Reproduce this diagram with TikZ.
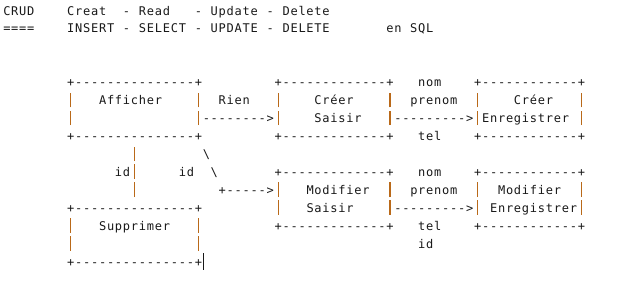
\documentclass[tikz,border=0pt]{standalone}
\usepackage{fontspec}
\setmonofont{DejaVu Sans Mono}
\usepackage{xcolor}
\definecolor{ink}{RGB}{25,25,25}
\definecolor{barcol}{RGB}{185,105,25}

% fixed character pitch of the text grid
\newlength\cw
\setlength\cw{7.98pt}

% typeset one line of the grid: "." stands for a blank cell,
% "|" is drawn as a coloured bar, any other character is centred in its cell
\def\gridline#1{\gridstep#1\relax}
\def\gridstep#1{\ifx#1\relax\else\gridcell{#1}\expandafter\gridstep\fi}
\def\gridcell#1{%
  \ifx#1.\hbox to\cw{}%
  \else\ifx#1|\hbox to\cw{\hss\textcolor{barcol}{\rule[-2.5pt]{1.4pt}{14.6pt}}\hss}%
  \else\hbox to\cw{\hss#1\hss}%
  \fi\fi}

\tikzset{
  gridrow/.style={anchor=base west, inner sep=0pt, outer sep=0pt,
    text=ink, font=\ttfamily\fontsize{12}{14}\selectfont},
}

\begin{document}
\begin{tikzpicture}[x=1pt,y=1pt]
  \fill[white] (0,0) rectangle (618,293);
  \useasboundingbox (0,0) rectangle (618,293);

  % baseline of row r sits at 278 - 17.95 r
  \node[gridrow] (row0)  at (2.9,278.00) {\gridline{CRUD....Creat..-.Read...-.Update.-.Delete}};
  \node[gridrow] (row1)  at (2.9,260.05) {\gridline{====....INSERT.-.SELECT.-.UPDATE.-.DELETE.......en.SQL}};

  \node[gridrow] (row4)  at (2.9,206.20) {\gridline{........+---------------+.........+-------------+...nom....+------------+}};
  \node[gridrow] (row5)  at (2.9,188.25) {\gridline{........|...Afficher....|..Rien...|....Créer....|..prenom..|....Créer...|}};
  \node[gridrow] (row6)  at (2.9,170.30) {\gridline{........|...............|-------->|....Saisir...|--------->|Enregistrer.|}};
  \node[gridrow] (row7)  at (2.9,152.35) {\gridline{........+---------------+.........+-------------+...tel....+------------+}};
  \node[gridrow] (row8)  at (2.9,134.40) {\gridline{................|........\textbackslash}};
  \node[gridrow] (row9)  at (2.9,116.45) {\gridline{..............id|.....id..\textbackslash.......+-------------+...nom....+------------+}};
  \node[gridrow] (row10) at (2.9, 98.50) {\gridline{................|..........+----->|...Modifier..|..prenom..|..Modifier..|}};
  \node[gridrow] (row11) at (2.9, 80.55) {\gridline{........+---------------+.........|...Saisir....|--------->|.Enregistrer|}};
  \node[gridrow] (row12) at (2.9, 62.60) {\gridline{........|...Supprimer...|.........+-------------+...tel....+------------+}};
  \node[gridrow] (row13) at (2.9, 44.65) {\gridline{........|...............|...........................id}};
  \node[gridrow] (row14) at (2.9, 26.70) {\gridline{........+---------------+}};

  % text cursor after the last line
  \coordinate (caretTop) at (203.3,39.7);
  \coordinate (caretBot) at (203.3,23.0);
  \draw[ink, line width=0.9pt] (caretTop) -- (caretBot);
\end{tikzpicture}
\end{document}
